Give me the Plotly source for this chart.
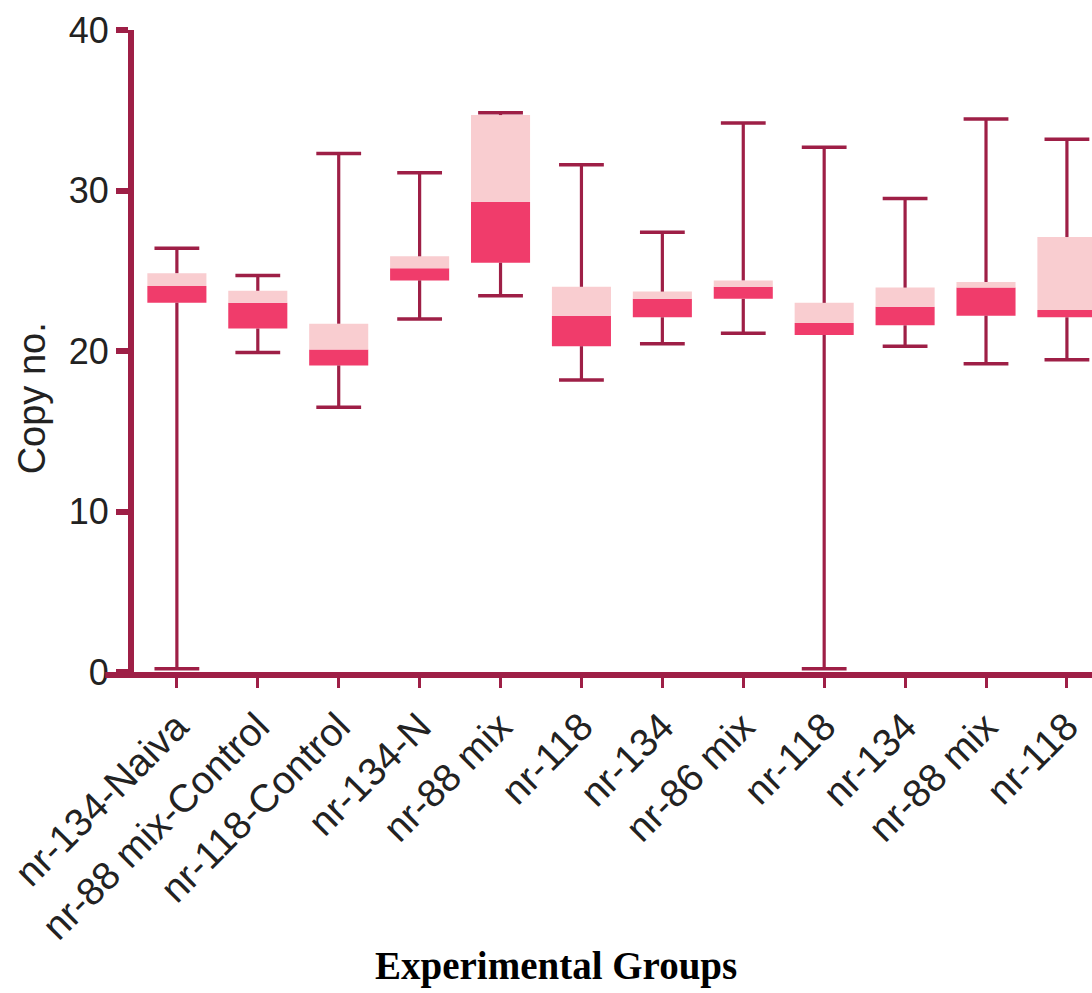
import plotly.graph_objects as go

categories = ["nr-134-Naiva", "nr-88 mix-Control", "nr-118-Control", "nr-134-N",
              "nr-88 mix", "nr-118", "nr-134", "nr-86 mix", "nr-118", "nr-134",
              "nr-88 mix", "nr-118"]
whisker_low = [0.2, 19.9, 16.5, 22.0, 23.45, 18.2, 20.45, 21.1, 0.2, 20.3, 19.2, 19.45]
q1 = [23.0, 21.4, 19.1, 24.4, 25.5, 20.3, 22.1, 23.25, 21.0, 21.6, 22.2, 22.1]
median = [24.05, 23.0, 20.1, 25.15, 29.3, 22.2, 23.25, 24.0, 21.75, 22.75, 23.95, 22.55]
q3 = [24.85, 23.75, 21.7, 25.9, 34.7, 24.0, 23.7, 24.4, 23.0, 23.95, 24.3, 27.1]
whisker_high = [26.4, 24.7, 32.3, 31.1, 34.85, 31.6, 27.4, 34.2, 32.7, 29.5, 34.45, 33.2]
y_ticks = [0, 10, 20, 30, 40]

DARK = "#F03C6B"
LIGHT = "#F9CDD0"
LINE = "#9E1F46"

xs = list(range(len(categories)))

fig = go.Figure()
fig.add_trace(go.Bar(x=xs, y=[m - a for m, a in zip(median, q1)], base=q1,
                     width=0.73, marker=dict(color=DARK, line=dict(width=0)),
                     showlegend=False, hoverinfo="skip"))
fig.add_trace(go.Bar(x=xs, y=[b - m for b, m in zip(q3, median)], base=median,
                     width=0.73, marker=dict(color=LIGHT, line=dict(width=0)),
                     showlegend=False, hoverinfo="skip"))

wx, wy = [], []
for i in xs:
    wx += [i, i, None, i, i, None]
    wy += [q3[i], whisker_high[i], None, q1[i], whisker_low[i], None]
fig.add_trace(go.Scatter(x=wx, y=wy, mode="lines", line=dict(color=LINE, width=3.2),
                         showlegend=False, hoverinfo="skip", cliponaxis=False))
fig.add_trace(go.Scatter(x=xs + xs, y=whisker_high + whisker_low, mode="markers",
                         marker=dict(symbol="line-ew", size=32,
                                     line=dict(color=LINE, width=3.5)),
                         showlegend=False, hoverinfo="skip", cliponaxis=False))

fig.update_layout(
    width=1092, height=993,
    margin=dict(l=134, r=0, t=30, b=321),
    plot_bgcolor="white", paper_bgcolor="white",
    barmode="overlay",
    font=dict(family="Liberation Sans, Arial, sans-serif", color="#222222"),
    xaxis=dict(range=[-0.53, 11.31], tickmode="array", tickvals=xs, ticktext=categories,
               tickangle=-45, tickfont=dict(size=39, color="#222222"),
               showline=True, linewidth=6, linecolor=LINE,
               ticks="outside", ticklen=10, tickwidth=3, tickcolor=LINE,
               showgrid=False, zeroline=False),
    yaxis=dict(range=[0, 40], tickmode="array", tickvals=y_ticks,
               tickfont=dict(size=36, color="#222222"),
               showline=True, linewidth=6, linecolor=LINE,
               ticks="outside", ticklen=12, tickwidth=6, tickcolor=LINE,
               showgrid=False, zeroline=False),
    shapes=[dict(type="line", xref="paper", yref="paper", x0=-0.03, x1=0, y0=-0.0047, y1=-0.0047,
                 line=dict(color=LINE, width=6))],
    annotations=[
        dict(text="Copy no.", xref="paper", yref="paper", x=-0.107, y=0.427,
             textangle=-90, showarrow=False, xanchor="center", yanchor="middle",
             font=dict(size=38, color="#222222", family="Liberation Sans, Arial, sans-serif")),
        dict(text="<b>Experimental Groups</b>", xref="paper", yref="paper", x=0.441, y=-0.458,
             showarrow=False, xanchor="center", yanchor="middle",
             font=dict(size=39, color="#000000", family="Liberation Serif, Times New Roman, serif")),
    ],
)

fig.write_html("out.html", config={"displayModeBar": False},
               post_script="document.body.style.margin='0';")
